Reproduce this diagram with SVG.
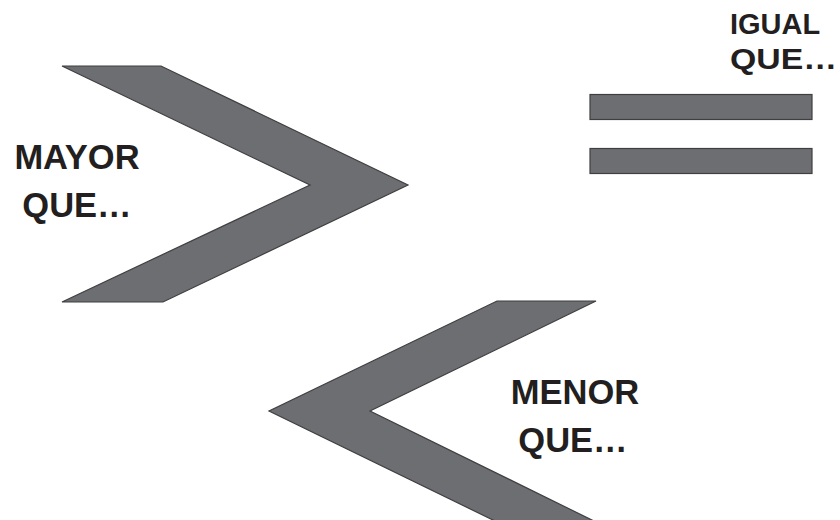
<svg xmlns="http://www.w3.org/2000/svg" width="840" height="520" viewBox="0 0 840 520">
<style>
.shape{fill:#6d6e71;stroke:#3f3f41;stroke-width:1.2;stroke-linejoin:miter}
.lbl{font-family:"Liberation Sans",Arial,sans-serif;font-weight:bold;font-size:34.5px;fill:#231f20;text-anchor:middle}
.lbl2{font-family:"Liberation Sans",Arial,sans-serif;font-weight:bold;font-size:29px;fill:#231f20}
</style>
<rect width="840" height="520" fill="#ffffff"/>
<g id="mayor">
<polygon class="shape" points="62,66 161,66 408,185 163,302 62,302 310,185"/>
<text class="lbl" x="77" y="169">MAYOR</text>
<text class="lbl" x="77" y="217">QUE…</text>
</g>
<g id="menor">
<polygon class="shape" points="497,301 596,301 370,411 596,522 497,522 269,411"/>
<text class="lbl" x="575" y="404">MENOR</text>
<text class="lbl" x="573" y="452">QUE…</text>
</g>
<g id="igual">
<rect class="shape" x="590" y="94.5" width="222" height="25"/>
<rect class="shape" x="590" y="148.5" width="222" height="25"/>
<text class="lbl2" x="730" y="34">IGUAL</text>
<text class="lbl2" x="730" y="68.5" textLength="107" lengthAdjust="spacingAndGlyphs">QUE…</text>
</g>
<g id="connectors"/>
</svg>
